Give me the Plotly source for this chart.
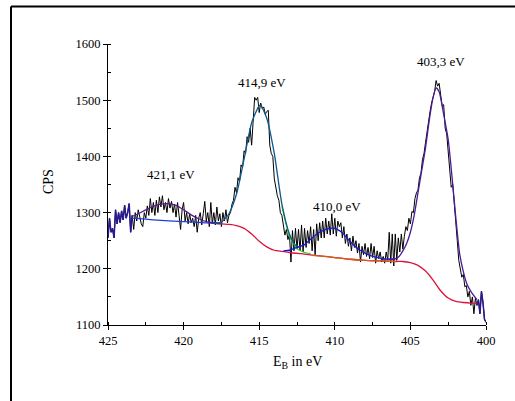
import numpy as np
import plotly.graph_objects as go

# XPS spectrum, binding energy from 425.0 down to 400.0 eV in 0.1 eV steps
energy = np.round(np.linspace(425.0, 400.0, 251), 1)
counts = [
    1255, 1290, 1265, 1272, 1255, 1305, 1280, 1300, 1282, 1303,
    1287, 1313, 1290, 1300, 1316, 1265, 1295, 1270, 1300, 1285,
    1305, 1290, 1280, 1275, 1300, 1290, 1312, 1295, 1325, 1300,
    1318, 1295, 1322, 1300, 1328, 1310, 1330, 1305, 1318, 1300,
    1325, 1308, 1320, 1300, 1315, 1292, 1318, 1295, 1270, 1305,
    1318, 1285, 1300, 1280, 1298, 1282, 1290, 1275, 1295, 1265,
    1290, 1300, 1278, 1298, 1320, 1285, 1300, 1275, 1318, 1280,
    1300, 1278, 1310, 1285, 1298, 1275, 1300, 1285, 1305, 1282,
    1295, 1300, 1315, 1322, 1345, 1335, 1362, 1355, 1385, 1380,
    1410, 1405, 1435, 1425, 1450, 1420, 1470, 1505, 1500, 1505,
    1478, 1495, 1485, 1488, 1475, 1480, 1482, 1420, 1405, 1400,
    1360, 1340, 1330, 1322, 1300, 1295, 1275, 1260, 1270, 1252,
    1262, 1212, 1268, 1232, 1272, 1235, 1270, 1232, 1278, 1230,
    1272, 1238, 1268, 1245, 1275, 1232, 1270, 1225, 1280, 1250,
    1282, 1255, 1285, 1255, 1290, 1262, 1285, 1260, 1298, 1262,
    1290, 1258, 1285, 1275, 1282, 1255, 1275, 1245, 1262, 1240,
    1255, 1232, 1258, 1238, 1250, 1228, 1245, 1212, 1240, 1225,
    1245, 1222, 1238, 1218, 1245, 1220, 1240, 1210, 1232, 1218,
    1230, 1212, 1222, 1210, 1230, 1215, 1265, 1210, 1262, 1205,
    1262, 1215, 1255, 1230, 1262, 1235, 1258, 1275, 1268, 1290,
    1280, 1302, 1300, 1325, 1335, 1340, 1362, 1370, 1395, 1405,
    1425, 1445, 1455, 1480, 1495, 1505, 1515, 1535, 1525, 1530,
    1505, 1490, 1492, 1450, 1440, 1410, 1370, 1345, 1350, 1320,
    1290, 1250, 1215, 1200, 1185, 1190, 1168, 1170, 1150, 1160,
    1135, 1150, 1120, 1148, 1135, 1145, 1120, 1160, 1140, 1110,
    1105,
]

# Linear baseline under the 421.1 eV peak
base_left_e = [423.4, 422.0, 420.0, 418.0, 417.6]
base_left_c = [1290, 1287, 1284, 1281, 1280]

# Shirley-type background
bg_e = [417.8, 417.0, 416.5, 416.0, 415.5, 415.0, 414.5, 414.0, 413.5, 413.0,
        412.0, 411.0, 410.0, 409.0, 408.0, 407.0, 406.0, 405.5, 405.0, 404.5,
        404.0, 403.5, 403.0, 402.5, 402.0, 401.5, 401.0, 400.6]
bg_c = [1281, 1279, 1277, 1272, 1262, 1249, 1239, 1233, 1231, 1229,
        1226, 1223, 1220, 1217, 1215, 1214, 1213, 1213, 1211, 1206,
        1196, 1180, 1161, 1148, 1142, 1140, 1139, 1139]

# Background section overlapped by the 414.9 eV component tail
bg_tail_e = [411.5, 411.0, 410.0, 409.0, 408.0, 407.0, 406.0]
bg_tail_c = [1224, 1223, 1220, 1217, 1215, 1214, 1213]

# Fitted envelope of the 421.1 eV peak
env1_e = [423.4, 423.0, 422.5, 422.0, 421.5, 421.1, 420.5, 420.0, 419.5, 419.0, 418.5, 418.0, 417.6]
env1_c = [1293, 1298, 1305, 1311, 1315, 1316, 1313, 1305, 1296, 1289, 1284, 1282, 1281]

# 414.9 eV component on background
comp2_e = [413.5, 413.0, 412.5, 412.0, 411.6]
comp2_c = [1312, 1258, 1236, 1229, 1227]

# Fitted envelope of the 414.9 eV peak
env2_e = [418.0, 417.5, 417.0, 416.5, 416.0, 415.5, 415.0, 414.9, 414.5, 414.0,
          413.5, 413.0, 412.6, 412.3]
env2_c = [1281, 1283, 1298, 1333, 1395, 1460, 1490, 1491, 1468, 1405,
          1315, 1262, 1242, 1238]

# Fitted envelope of the 410.0 eV peak
env3_e = [413.4, 413.0, 412.5, 412.0, 411.5, 411.0, 410.5, 410.0, 409.5, 409.0,
          408.5, 408.0, 407.5, 407.0, 406.5, 406.0]
env3_c = [1232, 1233, 1238, 1243, 1255, 1265, 1271, 1272, 1264, 1249,
          1236, 1228, 1222, 1219, 1217, 1217]

# Fitted envelope of the 403.3 eV peak
env4_e = [406.5, 406.0, 405.75, 405.5, 405.25, 405.0, 404.75, 404.5, 404.25, 404.0,
          403.75, 403.5, 403.3, 403.1, 402.8, 402.5, 402.2, 402.0, 401.75, 401.5,
          401.25, 401.0, 400.6]
env4_c = [1217, 1218, 1222, 1232, 1245, 1265, 1295, 1335, 1375, 1415,
          1465, 1505, 1522, 1515, 1475, 1430, 1350, 1292, 1228, 1195,
          1172, 1160, 1145]

peak_labels = ["421,1 eV", "414,9 eV", "410,0 eV", "403,3 eV"]
label_x = [420.85, 414.8, 409.85, 403.0]
label_y = [1367, 1532, 1310, 1568]

FONT = "Liberation Serif"

fig = go.Figure()

fig.add_trace(go.Scatter(x=energy, y=counts, mode="lines",
                         line=dict(color="black", width=1)))

# data outside the fit window, overlaid by the fit sum
cnt = np.array(counts)
left_mask = energy >= 423.4
right_mask = energy <= 400.6
fig.add_trace(go.Scatter(x=energy[left_mask], y=cnt[left_mask], mode="lines",
                         line=dict(color="#2a1a90", width=1.5)))
fig.add_trace(go.Scatter(x=energy[right_mask], y=cnt[right_mask], mode="lines",
                         line=dict(color="#2a1a90", width=1.5)))

spline = dict(shape="spline", smoothing=0.6)
fig.add_trace(go.Scatter(x=comp2_e, y=comp2_c, mode="lines",
                         line=dict(color="#22dd22", width=1.2, **spline)))
fig.add_trace(go.Scatter(x=bg_e, y=bg_c, mode="lines",
                         line=dict(color="#dc143c", width=1.3, **spline)))
fig.add_trace(go.Scatter(x=bg_tail_e, y=bg_tail_c, mode="lines",
                         line=dict(color="#d2601a", width=1.3, **spline)))
fig.add_trace(go.Scatter(x=base_left_e, y=base_left_c, mode="lines",
                         line=dict(color="#1f3fd8", width=1.3, **spline)))
fig.add_trace(go.Scatter(x=env1_e, y=env1_c, mode="lines",
                         line=dict(color="#5a1a8c", width=1.3, **spline)))
fig.add_trace(go.Scatter(x=env2_e, y=env2_c, mode="lines",
                         line=dict(color="#0d5a8c", width=1.3, **spline)))
fig.add_trace(go.Scatter(x=env3_e, y=env3_c, mode="lines",
                         line=dict(color="#1a1ad2", width=1.3, **spline)))
fig.add_trace(go.Scatter(x=env4_e, y=env4_c, mode="lines",
                         line=dict(color="#4a1a96", width=1.3, **spline)))

for txt, lx, ly in zip(peak_labels, label_x, label_y):
    fig.add_annotation(x=lx, y=ly, text=txt, showarrow=False,
                       font=dict(family=FONT, size=13, color="black"),
                       xanchor="center", yanchor="middle")

# axis titles
fig.add_annotation(xref="paper", yref="paper", x=-0.156, y=0.509, text="CPS",
                   textangle=-90, showarrow=False,
                   font=dict(family=FONT, size=14, color="black"),
                   xanchor="center", yanchor="middle")
fig.add_annotation(xref="paper", yref="paper", x=0.5, y=-0.135,
                   text="E<sub>B</sub> in eV", showarrow=False,
                   font=dict(family=FONT, size=14, color="black"),
                   xanchor="center", yanchor="middle")

# surrounding frame
fig.add_shape(type="line", xref="paper", yref="paper",
              x0=-0.2566, y0=1.1335, x1=1.1, y1=1.1335,
              line=dict(color="black", width=2))
fig.add_shape(type="line", xref="paper", yref="paper",
              x0=-0.2566, y0=1.1335, x1=-0.2566, y1=-0.35,
              line=dict(color="black", width=2))

axis_common = dict(
    showline=True, linecolor="black", linewidth=1,
    ticks="outside", ticklen=4, tickwidth=1, tickcolor="black",
    showgrid=False, zeroline=False,
    tickfont=dict(family=FONT, size=12.5, color="black"),
)
fig.update_xaxes(range=[425, 400], tick0=400, dtick=5,
                 minor=dict(ticks="inside", ticklen=3, dtick=2.5, tick0=400,
                            tickcolor="black", showgrid=False),
                 **axis_common)
fig.update_yaxes(range=[1100, 1600], tick0=1100, dtick=100,
                 minor=dict(ticks="inside", ticklen=3, dtick=50, tick0=1100,
                            tickcolor="black", showgrid=False),
                 **axis_common)

fig.update_layout(
    width=515, height=401,
    margin=dict(l=108, r=29, t=44, b=76),
    paper_bgcolor="white", plot_bgcolor="white",
    showlegend=False,
)

fig.write_html("out.html")
